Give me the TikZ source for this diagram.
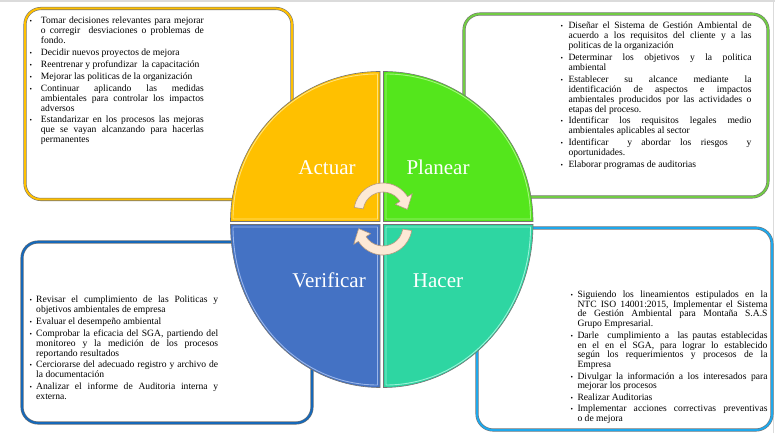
\documentclass[tikz,border=0pt]{standalone}
\usepackage{fontspec}
\setmainfont{Liberation Serif}
\definecolor{cAct}{HTML}{FFC000}
\definecolor{cActL}{HTML}{FFE27A}
\definecolor{cPla}{HTML}{54E61C}
\definecolor{cPlaL}{HTML}{A4F47E}
\definecolor{cVer}{HTML}{4472C4}
\definecolor{cVerL}{HTML}{9AB6EA}
\definecolor{cHac}{HTML}{2ED6A2}
\definecolor{cHacL}{HTML}{9AF2D8}
\definecolor{bTL}{HTML}{FFC000}
\definecolor{bTR}{HTML}{72CC44}
\definecolor{bBL}{HTML}{1668B8}
\definecolor{bBR}{HTML}{1EA8EC}
\definecolor{arrFill}{HTML}{FDE9D6}
\definecolor{arrLine}{HTML}{B59A80}
\newdimen\tw
\newdimen\bind
\newcommand\bul{{\fontsize{7}{7}\selectfont\char"2022}}
% first line of an item (justified / natural), continuation lines (justified / natural)
\newcommand\FJ[1]{\hbox{\hbox to\bind{\bul\hss}\hbox to\tw{#1}}}
\newcommand\FL[1]{\hbox{\hbox to\bind{\bul\hss}#1}}
\newcommand\CJ[1]{\hbox{\hskip\bind\hbox to\tw{#1}}}
\newcommand\CL[1]{\hbox{\hskip\bind #1}}
\newcommand\IG{\vskip1.8pt}
\newcommand\txtsetup{\fontsize{9.6}{10}\selectfont\baselineskip=10pt\lineskip=0pt\lineskiplimit=-20pt}
\tikzset{
  panel/.style={draw=black!55, double=#1, double distance=2pt, line width=0.55pt,
    rounded corners=16pt, fill=white, inner sep=0pt},
  quadfill/.style={fill=#1, draw=black!55, line width=0.6pt},
  quadhl/.style={draw=#1, line width=0.9pt},
  lbl/.style={text=white, font=\fontsize{21}{21}\selectfont, inner sep=0pt, anchor=base},
  txt/.style={anchor=base west, inner sep=0pt, align=left},
  arr/.style={fill=arrFill, draw=arrLine, line width=0.6pt, line join=round}
}
\begin{document}
\begin{tikzpicture}[x=1pt,y=1pt]
\useasboundingbox (0,0) rectangle (775,433);
\fill[white] (0,0) rectangle (775,433);
\fill[black!14] (0,431) rectangle (775,433);
\draw[black!14, line width=1pt] (773,0) -- (773,433);

% panels
\node[panel=bTL, minimum width=267pt, minimum height=191pt] (tlbox) at (158.5,329) {};
\node[panel=bTR, minimum width=304pt, minimum height=183pt] (trbox) at (616,327.5) {};
\node[panel=bBL, minimum width=290pt, minimum height=181pt] (blbox) at (167,100.5) {};
\node[panel=bBR, minimum width=295pt, minimum height=202pt] (brbox) at (624.5,104) {};

% quadrants
\filldraw[quadfill=cAct] (380,211.5) -- (230.5,211.5) arc[start angle=180,end angle=90,x radius=149.5,y radius=150] -- cycle;
\draw[quadhl=cActL] (377.5,214) -- (233,214) arc[start angle=180,end angle=90,x radius=144.5,y radius=145] -- cycle;
\filldraw[quadfill=cPla] (383.5,211.5) -- (533,211.5) arc[start angle=0,end angle=90,x radius=149.5,y radius=150] -- cycle;
\draw[quadhl=cPlaL] (386,214) -- (530.5,214) arc[start angle=0,end angle=90,x radius=144.5,y radius=145] -- cycle;
\filldraw[quadfill=cVer] (380,208.5) -- (230.5,208.5) arc[start angle=180,end angle=270,x radius=149.5,y radius=163] -- cycle;
\draw[quadhl=cVerL] (377.5,206) -- (233,206) arc[start angle=180,end angle=270,x radius=144.5,y radius=158] -- cycle;
\filldraw[quadfill=cHac] (383.5,208.5) -- (533,208.5) arc[start angle=0,end angle=-90,x radius=149.5,y radius=163] -- cycle;
\draw[quadhl=cHacL] (386,206) -- (530.5,206) arc[start angle=0,end angle=-90,x radius=144.5,y radius=158] -- cycle;

% labels
\node[lbl] (actuar) at (327,258) {Actuar};
\node[lbl] (planear) at (438,258) {Planear};
\node[lbl] (verificar) at (329,145) {Verificar};
\node[lbl] (hacer) at (438,145) {Hacer};

% cycle arrows
\begin{scope}[shift={(383,221)}]
\filldraw[arr] (171:29) arc[start angle=171,end angle=32,radius=29] -- (32:34.5) -- (6:24.5) -- (32:14.5) -- (32:20) arc[start angle=32,end angle=171,radius=20] -- cycle;
\end{scope}
\begin{scope}[shift={(383,207)},rotate=180]
\filldraw[arr] (171:29) arc[start angle=171,end angle=32,radius=29] -- (32:34.5) -- (6:24.5) -- (32:14.5) -- (32:20) arc[start angle=32,end angle=171,radius=20] -- cycle;
\end{scope}

% texts
\node[txt] (tltext) at (29.4,409) {\txtsetup\tw=163pt\bind=11.3pt\vtop{%
\FJ{Tomar decisiones relevantes para mejorar}\CJ{o corregir\ \ desviaciones o problemas de}\CL{fondo.}\IG
\FL{Decidir nuevos proyectos de mejora}\IG
\FL{Reentrenar y profundizar\ \ la capacitación}\IG
\FL{Mejorar las politicas de la organización}\IG
\FJ{Continuar aplicando las medidas}\CJ{ambientales para controlar los impactos}\CL{adversos}\IG
\FJ{Estandarizar en los procesos las mejoras}\CJ{que se vayan alcanzando para hacerlas}\CL{permanentes}}};

\node[txt] (trtext) at (560.4,404.5) {\txtsetup\tw=183pt\bind=7.9pt\vtop{%
\FJ{Diseñar el Sistema de Gestión Ambiental de}\CJ{acuerdo a los requisitos del cliente y a las}\CL{politicas de la organización}\IG
\FJ{Determinar los objetivos y la politica}\CL{ambiental}\IG
\FJ{Establecer su alcance mediante la}\CJ{identificación de aspectos e impactos}\CJ{ambientales producidos por las actividades o}\CL{etapas del proceso.}\IG
\FJ{Identificar los requisitos legales medio}\CL{ambientales aplicables al sector}\IG
\FJ{Identificar\ \ y abordar los riesgos\ \ y}\CL{oportunidades.}\IG
\FL{Elaborar programas de auditorias}}};

\node[txt] (bltext) at (29.4,130.5) {\txtsetup\tw=182pt\bind=6.6pt\vtop{%
\FJ{Revisar el cumplimiento de las Politicas y}\CL{objetivos ambientales de empresa}\IG
\FL{Evaluar el desempeño ambiental}\IG
\FJ{Comprobar la eficacia del SGA, partiendo del}\CJ{monitoreo y la medición de los procesos}\CL{reportando resultados}\IG
\FJ{Cerciorarse del adecuado registro y archivo de}\CL{la documentación}\IG
\FJ{Analizar el informe de Auditoria interna y}\CL{externa.}}};

\node[txt] (brtext) at (570.4,135.5) {\txtsetup\baselineskip=9.75pt\tw=190pt\bind=6.9pt\vtop{%
\FJ{Siguiendo los lineamientos estipulados en la}\CJ{NTC ISO 14001:2015, Implementar el Sistema}\CJ{de Gestión Ambiental para Montaña S.A.S}\CL{Grupo Empresarial.}\IG
\FJ{Darle\ \ cumplimiento a\ \ las pautas establecidas}\CJ{en el en el SGA, para lograr lo establecido}\CJ{según los requerimientos y procesos de la}\CL{Empresa}\IG
\FJ{Divulgar la información a los interesados para}\CL{mejorar los procesos}\IG
\FL{Realizar Auditorias}\IG
\FJ{Implementar acciones correctivas preventivas}\CL{o de mejora}}};
\end{tikzpicture}
\end{document}
